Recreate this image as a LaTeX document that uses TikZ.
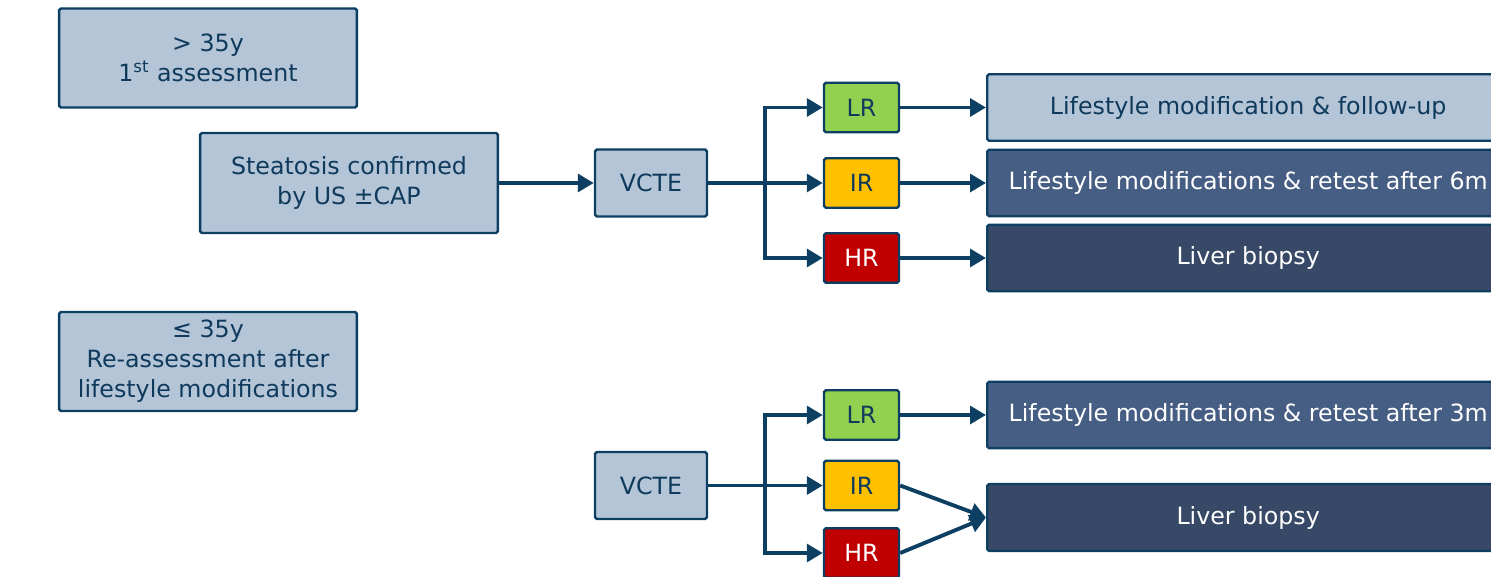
\documentclass[tikz,border=0pt]{standalone}
\usepackage{fontspec}
\setmainfont{DejaVu Sans}
\usetikzlibrary{arrows.meta}
\definecolor{pale}{HTML}{B4C5D8}
\definecolor{mid}{HTML}{465E83}
\definecolor{deep}{HTML}{374967}
\definecolor{bord}{HTML}{0D3F62}
\definecolor{ink}{HTML}{0F3A5C}
\definecolor{lrgreen}{HTML}{92D050}
\definecolor{iramber}{HTML}{FFC000}
\definecolor{hrred}{HTML}{C00000}

\begin{document}
\begin{tikzpicture}[x=0.02cm,y=-0.02cm,
  box/.style={draw=bord,line width=1.4pt,rounded corners=1pt,fill=pale,text=ink,align=center,inner sep=0pt,
    font=\fontsize{13.5}{17}\selectfont},
  big/.style={box,minimum width=5.96cm,minimum height=1.98cm},
  vcte/.style={box,minimum width=2.24cm,minimum height=1.34cm},
  risk/.style={box,minimum width=1.5cm,minimum height=0.99cm},
  result/.style={box,anchor=west,minimum width=10.44cm,minimum height=1.33cm},
  flow/.style={draw=bord,line width=2.2pt,-{Triangle[length=9pt,width=10pt]}}]
\useasboundingbox (0,0) rectangle (1491,577);
\clip (0,0) rectangle (1491,577);

% top branch
\node[big]                      (old)     at (208,58)      {> 35y\\1\textsuperscript{st} assessment};
\node[big,minimum height=2cm]   (stea)    at (349,183)     {Steatosis confirmed\\by US ±CAP};
\node[vcte]                     (vcteA)   at (651,183)     {VCTE};
\node[risk,fill=lrgreen]        (lrA)     at (861.5,107.5) {LR};
\node[risk,fill=iramber]        (irA)     at (861.5,183)   {IR};
\node[risk,fill=hrred,text=white] (hrA)   at (861.5,258)   {HR};
\node[result]                      (followA) at (986,107.5)   {Lifestyle modification \& follow-up};
\node[result,fill=mid,text=white]  (retestA) at (986,183)     {Lifestyle modifications \& retest after 6m};
\node[result,fill=deep,text=white] (biopsyA) at (986,258)     {Liver biopsy};
\coordinate (forkA) at (765,183);

% bottom branch
\node[big]                      (young)   at (208,361.5)   {≤ 35y\\Re-assessment after\\lifestyle modifications};
\node[vcte]                     (vcteB)   at (651,485.5)   {VCTE};
\node[risk,fill=lrgreen]        (lrB)     at (861.5,415)   {LR};
\node[risk,fill=iramber]        (irB)     at (861.5,485.5) {IR};
\node[risk,fill=hrred,text=white] (hrB)   at (861.5,553)   {HR};
\node[result,fill=mid,text=white]  (retestB) at (986,415)     {Lifestyle modifications \& retest after 3m};
\node[result,fill=deep,text=white,minimum height=1.34cm] (biopsyB) at (986,517.5) {Liver biopsy};
\coordinate (forkB) at (765,485.5);

\path[every edge/.style={flow}]
    (stea)  edge (vcteA)
    (vcteA) edge (irA)
    (lrA)   edge (followA)
    (irA)   edge (retestA)
    (hrA)   edge (biopsyA)
    (vcteB) edge (irB)
    (lrB)   edge (retestB)
    (irB.east) edge (biopsyB.west)
    (hrB.east) edge (biopsyB.west);
\draw[flow] (forkA) |- (lrA);
\draw[flow] (forkA) |- (hrA);
\draw[flow] (forkB) |- (lrB);
\draw[flow] (forkB) |- (hrB);

\end{tikzpicture}
\end{document}
